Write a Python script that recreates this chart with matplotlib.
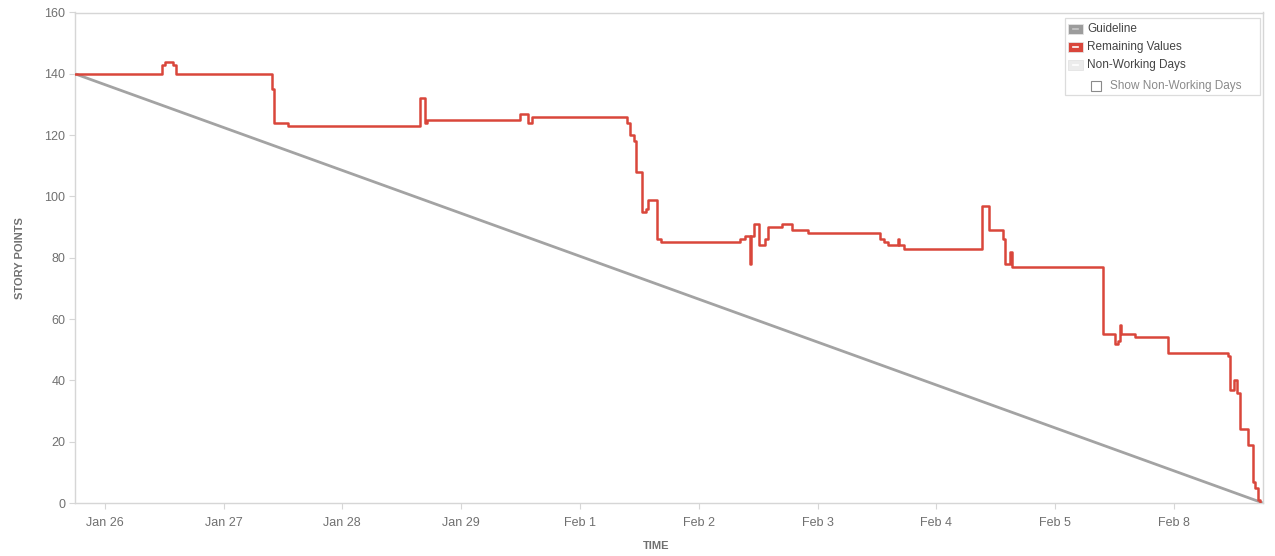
import matplotlib
matplotlib.use("Agg")
import matplotlib.pyplot as plt
from matplotlib.patches import Rectangle
from matplotlib.lines import Line2D

plt.rcParams['font.family'] = ['Liberation Sans', 'DejaVu Sans']

# Sprint timeline in working days since sprint start (non-working days hidden)
sprint_length = 10.0
tick_labels = ["Jan 26", "Jan 27", "Jan 28", "Jan 29", "Feb 1",
               "Feb 2", "Feb 3", "Feb 4", "Feb 5", "Feb 8"]
tick_offset = 0.25  # first day boundary after sprint start

# Guideline: ideal burndown from committed scope to zero
guide_x = [0.0, 10.0]
guide_y = [140, 0]

# Remaining story points: each entry is (time of change, new value)
remaining_x = [0.000, 0.732, 0.758, 0.825, 0.850, 1.658, 1.675, 1.793,
               2.904, 2.946, 2.963, 3.746, 3.813, 3.847, 4.646, 4.672,
               4.705, 4.722, 4.773, 4.806, 4.823, 4.899, 4.933, 5.598,
               5.640, 5.682, 5.690, 5.715, 5.758, 5.808, 5.833, 5.951,
               6.035, 6.170, 6.776, 6.810, 6.843, 6.928, 6.936, 6.978,
               7.635, 7.694, 7.811, 7.828, 7.870, 7.887, 8.653, 8.754,
               8.779, 8.796, 8.805, 8.923, 9.200, 9.705, 9.722, 9.756,
               9.781, 9.806, 9.874, 9.916, 9.933, 9.958, 9.975]
remaining_y = [140, 143, 144, 143, 140, 135, 124, 123,
               132, 124, 125, 127, 124, 126, 124, 120,
               118, 108, 95, 96, 99, 86, 85, 86,
               87, 78, 87, 91, 84, 86, 90, 91,
               89, 88, 86, 85, 84, 86, 84, 83,
               97, 89, 86, 78, 82, 77, 55, 52,
               53, 58, 55, 54, 49, 48, 37, 40,
               36, 24, 19, 7, 5, 1, 0]

legend_items = ["Guideline", "Remaining Values", "Non-Working Days"]
checkbox_label = "Show Non-Working Days"

W, H = 1275, 556
fig = plt.figure(figsize=(W / 100, H / 100), dpi=100)
ax = fig.add_axes([75 / W, 1 - 503 / H, 1188 / W, (503 - 12.5) / H])

red = "#d9463b"
gray_line = "#a3a3a3"
spine_col = "#d6d6d6"
text_col = "#707070"

ax.plot(guide_x, guide_y, color=gray_line, lw=2.0, solid_capstyle="butt", zorder=2)
ax.step(remaining_x, remaining_y, where="post", color=red, lw=1.8, zorder=3)

ax.set_xlim(0, sprint_length)
ax.set_ylim(0, 160)
ax.set_yticks(range(0, 161, 20))
ax.set_xticks([tick_offset + i for i in range(len(tick_labels))])
ax.set_xticklabels(tick_labels)

for s in ax.spines.values():
    s.set_color(spine_col)
    s.set_linewidth(1.0)
ax.tick_params(axis="both", colors=spine_col, labelcolor=text_col,
               labelsize=9, length=4, width=0.8)
ax.tick_params(axis="x", pad=6)
ax.tick_params(axis="y", pad=3)

ax.set_ylabel("STORY POINTS", fontsize=8, color=text_col, fontweight="bold", labelpad=14)
ax.set_xlabel("TIME", fontsize=8, color=text_col, fontweight="bold")
ax.xaxis.set_label_coords(0.489, -0.077)

# Legend panel drawn in figure pixel coordinates
def fx(px):
    return px / W

def fy(py):
    return 1 - py / H

tf = fig.transFigure
fig.patches.append(Rectangle((fx(1065), fy(95)), fx(1260) - fx(1065), fy(18) - fy(95),
                             transform=tf, facecolor="white", edgecolor="#dcdcdc",
                             lw=0.9, zorder=10))

swatches = [("#9c9c9c", "#c8c8c8"), (red, "#ffffff"), ("#ececec", "#ffffff")]
rows_y = [29, 47, 65]
for (fc, dash), label, ry in zip(swatches, legend_items, rows_y):
    fig.patches.append(Rectangle((fx(1068), fy(ry + 5)), fx(1083) - fx(1068), fy(ry - 5) - fy(ry + 5),
                                 transform=tf, facecolor=fc, edgecolor="#e4e4e4",
                                 lw=0.6, zorder=11))
    fig.lines.append(Line2D([fx(1073), fx(1078)], [fy(ry), fy(ry)], transform=tf,
                            color=dash, lw=1.2, zorder=12))
    fig.text(fx(1087), fy(ry), label, fontsize=8.5, color="#444444",
             va="center", ha="left", zorder=12)

fig.patches.append(Rectangle((fx(1091), fy(91)), fx(1101) - fx(1091), fy(81) - fy(91),
                             transform=tf, facecolor="white", edgecolor="#8a8a8a",
                             lw=0.8, zorder=11))
fig.text(fx(1110), fy(86.5), checkbox_label, fontsize=8.5, color="#8a8a8a",
         va="center", ha="left", zorder=12)

fig.savefig("out.png", dpi=100)
